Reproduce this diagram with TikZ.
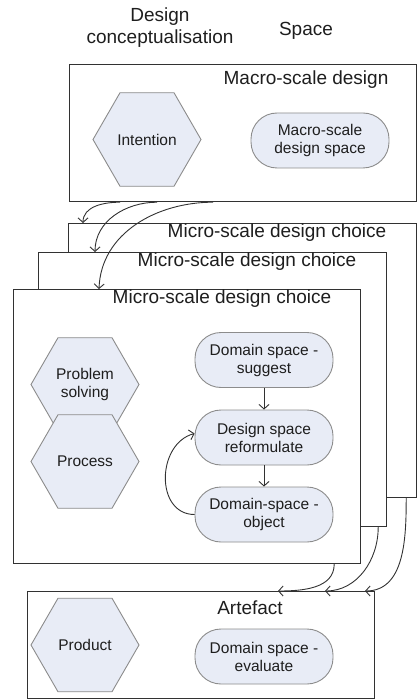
\documentclass[tikz,border=0pt]{standalone}
\usepackage{fontspec}
\setmainfont{Liberation Sans}
\usetikzlibrary{shapes.geometric,arrows.meta}

\definecolor{nodefill}{RGB}{232,236,246}
\definecolor{nodeline}{RGB}{140,140,140}
\definecolor{boxline}{RGB}{50,50,50}
\definecolor{inktext}{RGB}{30,30,30}

\tikzset{
  boxframe/.style={draw=boxline, line width=1.2pt, fill=white, inner sep=0pt, anchor=north west},
  boxtitle/.style={font=\fontsize{19}{22}\selectfont, text=inktext, inner sep=0pt, align=center},
  hexa/.style={regular polygon, regular polygon sides=6, minimum size=108pt, inner sep=0pt,
    draw=nodeline, fill=nodefill, line width=0.9pt,
    font=\fontsize{15.5}{18}\selectfont, align=center, text=inktext},
  pill/.style={rectangle, rounded corners=26pt, minimum width=138pt, minimum height=55pt,
    inner sep=0pt, draw=nodeline, fill=nodefill, line width=0.9pt,
    font=\fontsize{15.5}{18}\selectfont, align=center, text=inktext},
  flow/.style={draw=boxline, line width=0.9pt, -{Straight Barb[length=4.5pt,width=10pt]}},
}

\begin{document}
\begin{tikzpicture}[x=1pt,y=1pt]
  \useasboundingbox (0,0) rectangle (417,-700);

  % column headers
  \node[boxtitle] (hdconcept) at (160,-28) {Design\\conceptualisation};
  \node[boxtitle] (hdspace) at (306,-31) {Space};

  % macro-scale level
  \node[boxframe, minimum width=346.5pt, minimum height=137pt] (macro) at (69,-64) {};
  \node[boxtitle] (macrotitle) at (306,-80) {Macro-scale design};
  \node[hexa] (intention) at (147,-139.5) {Intention};
  \node[pill] (macrospace) at (320,-140.5) {Macro-scale\\design space};

  % stacked micro-scale choices, back to front
  \node[boxframe, minimum width=347.5pt, minimum height=274pt] (microa) at (68,-223) {};
  \node[boxtitle] (microatitle) at (277,-233) {Micro-scale design choice};
  \node[boxframe, minimum width=348pt, minimum height=274pt] (microb) at (38,-252) {};
  \node[boxtitle] (microbtitle) at (247,-262) {Micro-scale design choice};
  \node[boxframe, minimum width=347pt, minimum height=274pt] (microc) at (13,-289) {};
  \node[boxtitle] (microctitle) at (222,-299) {Micro-scale design choice};

  \node[hexa] (problem) at (85,-384.5) {Problem\\solving};
  \node[hexa] (process) at (85,-461.5) {Process};
  \node[pill] (suggest) at (264,-360) {Domain space -\\suggest};
  \node[pill] (reform) at (264,-437.5) {Design space\\reformulate};
  \node[pill] (object) at (264,-514.5) {Domain-space -\\object};

  \draw[flow] (suggest) -- (reform);
  \draw[flow] (reform) -- (object);
  \draw[flow] (object.west) to[out=180, in=195, looseness=1.25] ([yshift=4pt]reform.west);

  % artefact level
  \node[boxframe, minimum width=347pt, minimum height=107pt] (artefact) at (27,-591) {};
  \node[boxtitle] (artefacttitle) at (250,-608) {Artefact};
  \node[hexa] (product) at (85,-645) {Product};
  \node[pill] (evaluate) at (264,-656.5) {Domain space -\\evaluate};

  % macro design feeding each micro choice
  \draw[flow] ([xshift=51pt]macro.south west) to[out=180, in=90] ([xshift=15pt]microa.north west);
  \draw[flow] ([xshift=88pt]macro.south west) to[out=180, in=90] ([xshift=57pt]microb.north west);
  \draw[flow] ([xshift=144pt]macro.south west) to[out=180, in=88] ([xshift=86pt]microc.north west);

  % micro choices feeding the artefact
  \draw[flow] ([xshift=-27pt]microc.south east) to[out=-90, in=0] ([xshift=251pt]artefact.north west);
  \draw[flow] ([xshift=-9pt]microb.south east) to[out=-90, in=0] ([xshift=298pt]artefact.north west);
  \draw[flow] ([xshift=-10.5pt]microa.south east) to[out=-90, in=0] ([xshift=338pt]artefact.north west);
\end{tikzpicture}
\end{document}
